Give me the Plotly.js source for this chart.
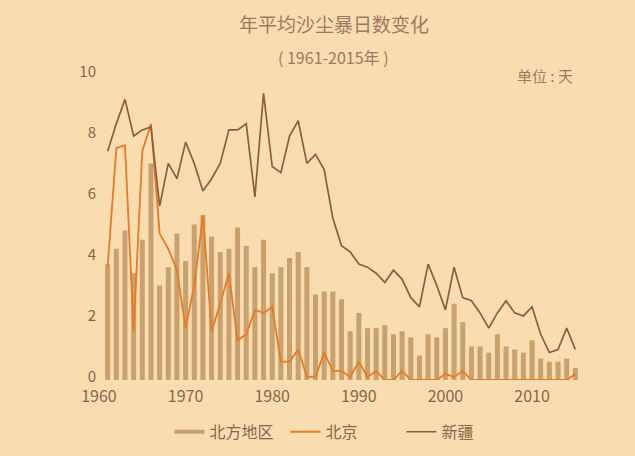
<!DOCTYPE html>
<html>
<head>
<meta charset="utf-8">
<script src="https://cdn.plot.ly/plotly-3.0.1.min.js"></script>
<style>
html,body{margin:0;padding:0;background:#FADCB1;}
#chart{width:635px;height:456px;}
</style>
</head>
<body>
<div id="chart"></div>
<script>
const years = [];
for (let y = 1961; y <= 2015; y++) years.push(y);

const northValues = [3.8,4.3,4.9,3.5,4.6,7.1,3.1,3.7,4.8,3.9,5.1,5.4,4.7,4.2,4.3,5.0,4.4,3.7,
  4.6,3.5,3.7,4.0,4.2,3.7,2.8,2.9,2.9,2.65,1.6,2.2,1.7,1.7,1.8,1.5,1.6,1.4,0.8,1.5,1.4,1.7,
  2.5,1.9,1.1,1.1,0.9,1.5,1.1,1.0,0.9,1.3,0.7,0.6,0.6,0.7,0.4];

const beijingValues = [3.7,7.6,7.7,1.6,7.5,8.4,4.8,4.3,3.6,1.7,3.1,5.4,1.6,2.5,3.5,1.3,1.5,2.3,
  2.2,2.4,0.6,0.6,1.0,0.1,0.1,0.9,0.3,0.3,0.1,0.6,0.1,0.3,0,0,0.3,0,0,0,0,0.2,
  0.1,0.3,0,0,0,0,0,0,0,0,0,0,0,0,0.2];

const xinjiangValues = [7.5,8.4,9.2,8.0,8.2,8.3,5.7,7.1,6.6,7.8,7.1,6.2,6.6,7.1,8.2,8.2,8.4,6.0,
  9.4,7.0,6.8,8.0,8.5,7.1,7.4,6.9,5.3,4.4,4.2,3.8,3.7,3.5,3.2,3.6,3.3,2.7,2.4,3.8,3.1,2.3,
  3.7,2.7,2.6,2.2,1.7,2.2,2.6,2.2,2.1,2.4,1.5,0.9,1.0,1.7,1.0];

const xTicks = [1960,1970,1980,1990,2000,2010];
const yTicks = [0,2,4,6,8,10];

const names = {north:'北方地区', beijing:'北京', xinjiang:'新疆'};
const colors = {north:'#C8A16E', beijing:'#E97A1F', xinjiang:'#8E5C3E'};

const traces = [
  {type:'bar', x:years, y:northValues, name:names.north, marker:{color:colors.north},
   showlegend:false, hoverinfo:'x+y'},
  {type:'scatter', mode:'lines', x:[null], y:[null], name:names.north,
   line:{color:colors.north, width:4}, legendrank:1},
  {type:'scatter', mode:'lines', x:years, y:beijingValues, name:names.beijing,
   line:{color:colors.beijing, width:1.8}, legendrank:2},
  {type:'scatter', mode:'lines', x:years, y:xinjiangValues, name:names.xinjiang,
   line:{color:colors.xinjiang, width:1.7}, legendrank:3}
];

const font = '"Noto Sans CJK SC", "Noto Sans", sans-serif';
const layout = {
  width:635, height:456,
  paper_bgcolor:'#FADCB1', plot_bgcolor:'#FADCB1',
  margin:{l:99, r:51, t:75, b:76, autoexpand:false},
  bargap:0.42,
  font:{family:font, color:'#8B6548', size:15},
  showlegend:true,
  legend:{orientation:'h', x:0.504, xanchor:'center', y:-0.17, yanchor:'middle',
    font:{size:16, color:'#8B6548'}, itemwidth:30, traceorder:'normal',
    entrywidth:71, entrywidthmode:'pixels'},
  xaxis:{range:[1960,2016], tickvals:xTicks, ticktext:xTicks.map(String),
    showgrid:false, zeroline:false, showline:false, ticks:'',
    tickfont:{size:16, color:'#8B6548'}, ticklabelstandoff:5, automargin:false},
  yaxis:{range:[0,10], tickvals:yTicks, showgrid:false, zeroline:false, showline:false,
    ticks:'', tickfont:{size:15, color:'#8B6548'}, ticklabelstandoff:2, ticklabelshift:-3,
    automargin:false},
  annotations:[
    {text:'年平均沙尘暴日数变化', xref:'paper', yref:'paper', x:0.484, y:1, yshift:52,
     showarrow:false, font:{size:19, color:'#9C7B5F'}, xanchor:'center', yanchor:'middle'},
    {text:'( 1961-2015年 )', xref:'paper', yref:'paper', x:0.484, y:1, yshift:18,
     showarrow:false, font:{size:16, color:'#9C7B5F'}, xanchor:'center', yanchor:'middle'},
    {text:'单位 : 天', xref:'paper', yref:'paper', x:1, xshift:-9, y:1, yshift:0,
     showarrow:false, font:{size:15, color:'#9C7B5F'}, xanchor:'right', yanchor:'middle'}
  ]
};

Plotly.newPlot('chart', traces, layout, {displayModeBar:false, staticPlot:true});
</script>
</body>
</html>
